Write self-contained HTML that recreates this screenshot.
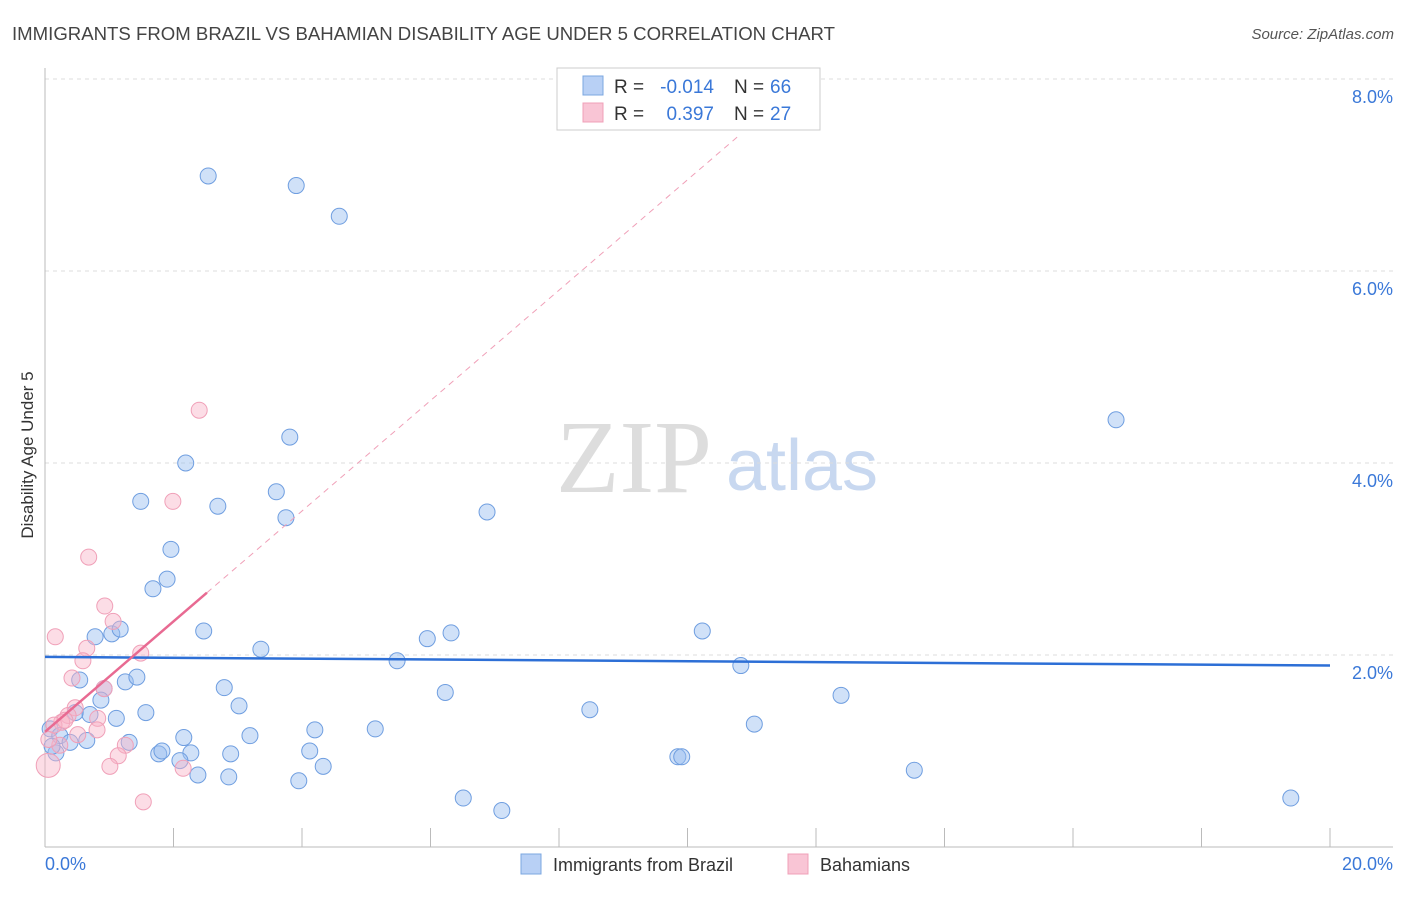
<!DOCTYPE html>
<html><head><meta charset="utf-8"><style>
body{margin:0;background:#fff;font-family:"Liberation Sans",sans-serif;}
</style></head><body>
<svg id="chart" width="1406" height="892" xmlns="http://www.w3.org/2000/svg" font-family="Liberation Sans, sans-serif">
<text x="12" y="40" font-size="18" fill="#444" textLength="823" lengthAdjust="spacingAndGlyphs">IMMIGRANTS FROM BRAZIL VS BAHAMIAN DISABILITY AGE UNDER 5 CORRELATION CHART</text>
<text x="1394" y="39" font-size="15" fill="#555" text-anchor="end" font-style="italic">Source: ZipAtlas.com</text>
<text transform="translate(33,455) rotate(-90)" font-size="17" fill="#333" text-anchor="middle">Disability Age Under 5</text>
<g>
<text x="634" y="492" font-size="104" fill="#ddd" font-family="Liberation Serif, serif" text-anchor="middle">ZIP</text>
<text x="802" y="490" font-size="72" fill="#c8d8f0" text-anchor="middle">atlas</text>
</g>
<g id="grid"></g><g id="axes"></g><g id="marks"></g>
<g>
<rect x="557" y="68" width="263" height="62" fill="#fff" stroke="#ccc"/>
<rect x="583" y="76" width="20" height="19" fill="#b8d0f5" stroke="#7ba7e0"/>
<rect x="583" y="103" width="20" height="19" fill="#f9c5d5" stroke="#f0a0b8"/>
<text x="614" y="93" font-size="19" fill="#333">R =</text>
<text x="714" y="93" font-size="19" fill="#3a78d8" text-anchor="end">-0.014</text>
<text x="734" y="93" font-size="19" fill="#333">N =</text>
<text x="770" y="93" font-size="19" fill="#3a78d8">66</text>
<text x="614" y="120" font-size="19" fill="#333">R =</text>
<text x="714" y="120" font-size="19" fill="#3a78d8" text-anchor="end">0.397</text>
<text x="734" y="120" font-size="19" fill="#333">N =</text>
<text x="770" y="120" font-size="19" fill="#3a78d8">27</text>
</g>
<g>
<rect x="521" y="854" width="20" height="20" fill="#b8d0f5" stroke="#7ba7e0"/>
<text x="553" y="871" font-size="18" fill="#333">Immigrants from Brazil</text>
<rect x="788" y="854" width="20" height="20" fill="#f9c5d5" stroke="#f0a0b8"/>
<text x="820" y="871" font-size="18" fill="#333">Bahamians</text>
</g>
</svg>
<script>
const yTicks=[2,4,6,8];
const yTickLabels=["2.0%","4.0%","6.0%","8.0%"];
const xTickLabels=["0.0%","20.0%"];
const brazilX=[2.54,3.91,4.58,16.67,3.81,2.19,1.49,2.69,3.60,3.75,6.88,1.96,1.90,1.68,0.78,1.04,1.17,2.47,3.36,5.95,6.32,10.23,5.48,10.83,0.54,0.92,1.25,1.43,2.79,6.23,12.39,0.87,3.02,0.70,1.11,1.57,8.48,0.47,4.20,5.14,11.04,0.08,0.23,0.65,0.39,1.31,2.16,3.19,1.77,1.82,2.27,2.89,4.12,0.17,0.11,2.10,4.33,9.85,9.91,13.53,2.38,2.86,3.95,6.51,7.11,19.39];
const brazilY=[6.99,6.89,6.57,4.45,4.27,4.00,3.60,3.55,3.70,3.43,3.49,3.10,2.79,2.69,2.19,2.22,2.27,2.25,2.06,2.17,2.23,2.25,1.94,1.89,1.74,1.65,1.72,1.77,1.66,1.61,1.58,1.53,1.47,1.38,1.34,1.40,1.43,1.40,1.22,1.23,1.28,1.23,1.16,1.11,1.09,1.09,1.14,1.16,0.97,1.00,0.98,0.97,1.00,0.98,1.05,0.90,0.84,0.94,0.94,0.80,0.75,0.73,0.69,0.51,0.38,0.51];
const bahX=[2.40,1.99,0.68,0.93,1.06,0.16,0.65,1.49,0.59,0.42,0.92,0.47,0.36,0.26,0.82,0.14,0.81,0.51,1.25,1.14,1.01,2.15,1.53,0.05,0.23,0.06,0.31];
const bahY=[4.55,3.60,3.02,2.51,2.35,2.19,2.07,2.02,1.94,1.76,1.65,1.45,1.37,1.30,1.34,1.27,1.22,1.17,1.06,0.95,0.84,0.82,0.47,0.85,1.06,1.12,1.32];
const brazilTrend=[1.98,1.89];
const bahTrend=[1.20,0.575];
const NS="http://www.w3.org/2000/svg";
const sx=v=>45+v*64.25, sy=v=>847-v*96;
function mk(tag,attrs,parent){const e=document.createElementNS(NS,tag);for(const k in attrs)e.setAttribute(k,attrs[k]);document.getElementById(parent).appendChild(e);return e;}
yTicks.forEach((t,i)=>{
 const g=mk('line',{x1:45,x2:1393,y1:sy(t),y2:sy(t),stroke:'#ddd','stroke-dasharray':'4,4'},'grid');
 
 
 const l=mk('text',{x:1393,y:sy(t)+24,'font-size':18,fill:'#3a78d8','text-anchor':'end'},'axes');
 l.textContent=yTickLabels[i];
 
 
});
const ax=mk('line',{x1:45,x2:1393,y1:847,y2:847,stroke:'#bbb'},'axes');


const ay=mk('line',{x1:45,x2:45,y1:68,y2:847,stroke:'#bbb'},'axes');


for(let i=0;i<=10;i++){const t=mk('line',{x1:sx(i*2),x2:sx(i*2),y1:828,y2:847,stroke:'#bbb'},'axes');
 
 }
[[0,'start',45],[20,'end',1393]].forEach((d,i)=>{const t=mk('text',{x:d[2],y:870,'font-size':18,fill:'#3a78d8','text-anchor':d[1]},'axes');t.textContent=xTickLabels[i];
 
 });
brazilX.forEach((x,i)=>{const c=mk('circle',{cx:sx(x),cy:sy(brazilY[i]),r:8,fill:'rgba(150,188,240,0.45)',stroke:'#6f9ee0','stroke-width':1},'marks');
 
 });
bahX.forEach((x,i)=>{const c=mk('circle',{cx:sx(x),cy:sy(bahY[i]),r:(i==23?12:8),fill:'rgba(248,180,200,0.45)',stroke:'#f0a0b8','stroke-width':1},'marks');
 
 });
const bl=mk('line',{x1:sx(0),y1:sy(brazilTrend[0]),x2:sx(20),y2:sy(brazilTrend[1]),stroke:'#2d6fd6','stroke-width':2.5},'marks');


const pd=mk('line',{x1:sx(2.52),y1:sy(bahTrend[0]+bahTrend[1]*2.52),x2:sx(10.8),y2:sy(bahTrend[0]+bahTrend[1]*10.8),stroke:'#f0a0b8','stroke-width':1,'stroke-dasharray':'6,5'},'marks');


const pl=mk('line',{x1:sx(0),y1:sy(bahTrend[0]),x2:sx(2.52),y2:sy(bahTrend[0]+bahTrend[1]*2.52),stroke:'#e86a92','stroke-width':2.5},'marks');


</script>
</body></html>
